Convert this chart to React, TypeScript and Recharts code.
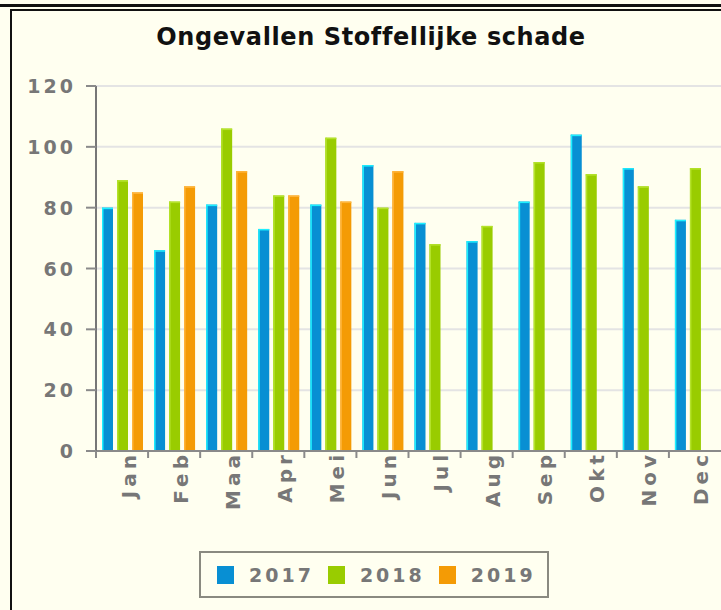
import React from 'react';
import { BarChart, Bar, XAxis, YAxis, CartesianGrid, Legend } from 'recharts';

const months = ['Jan', 'Feb', 'Maa', 'Apr', 'Mei', 'Jun', 'Jul', 'Aug', 'Sep', 'Okt', 'Nov', 'Dec'];
const s2017 = [80, 66, 81, 73, 81, 94, 75, 69, 82, 104, 93, 76];
const s2018 = [89, 82, 106, 84, 103, 80, 68, 74, 95, 91, 87, 93];
const s2019: (number | null)[] = [85, 87, 92, 84, 82, 92, null, null, null, null, null, null];
const yTicks = [0, 20, 40, 60, 80, 100, 120];
const seriesKeys = ['y2017', 'y2018', 'y2019'];
const seriesNames = ['2017', '2018', '2019'];
const seriesColors = ['#088fd3', '#99cc00', '#f49b05'];
const highlightColors = ['#1ef0ff', '#b4e22a', '#ffb43a'];
const title = 'Ongevallen Stoffellijke schade';

const data = months.map((m, i) => ({ month: m, y2017: s2017[i], y2018: s2018[i], y2019: s2019[i] }));

const BG = '#fffff0';
const TICK_FONT = '"DejaVu Sans", sans-serif';
const TICK_COLOR = '#777777';
const AXIS_COLOR = '#8a8a8a';

const makeShape = (fill: string, hi: string) => (props: any) => {
  const { x, y, width, height } = props;
  if (height == null || height <= 0 || width == null) return <g />;
  return (
    <g>
      <rect x={x} y={y} width={width} height={height} fill={fill} />
      <rect x={x} y={y} width={1.5} height={height} fill={hi} />
      <rect x={x} y={y} width={width} height={1.5} fill={hi} />
    </g>
  );
};

const XTick = (props: any) => {
  const { x, y, payload, width } = props;
  const band = (width as number) / months.length;
  const half = band / 2;
  return (
    <g>
      <line x1={x - half} y1={y} x2={x - half} y2={y + 7} stroke={AXIS_COLOR} strokeWidth={2} />
      <text
        transform={`translate(${x + 13.5},${y}) rotate(-90)`}
        textAnchor="end"
        fontFamily={TICK_FONT}
        fontWeight="bold"
        fontSize={20}
        letterSpacing={4}
        fill={TICK_COLOR}
      >
        {payload.value}
      </text>
    </g>
  );
};

const YTick = (props: any) => {
  const { x, y, payload } = props;
  return (
    <text
      x={x}
      y={y}
      dy={7}
      textAnchor="end"
      fontFamily={TICK_FONT}
      fontWeight="bold"
      fontSize={19}
      letterSpacing={3}
      fill={TICK_COLOR}
    >
      {payload.value}
    </text>
  );
};

const LegendContent = () => (
  <div
    style={{
      boxSizing: 'border-box',
      width: 350,
      height: 47,
      border: '2px solid #8a8a80',
      display: 'flex',
      alignItems: 'center',
      paddingLeft: 16,
      fontFamily: TICK_FONT,
      fontWeight: 'bold',
      fontSize: 19,
      letterSpacing: 3,
      color: TICK_COLOR,
    }}
  >
    {seriesNames.map((n, i) => (
      <div key={n} style={{ display: 'flex', alignItems: 'center', marginRight: 14 }}>
        <div style={{ width: 17, height: 18, background: seriesColors[i], marginRight: 15 }} />
        <span>{n}</span>
      </div>
    ))}
  </div>
);

export default function App() {
  return (
    <div style={{ position: 'fixed', left: 0, top: 0, width: 721, height: 610, background: BG, overflow: 'hidden' }}>
      <div style={{ position: 'absolute', left: 0, top: 4, width: 721, height: 3, background: '#111' }} />
      <div
        style={{
          position: 'absolute',
          left: 10,
          top: 9,
          width: 800,
          height: 700,
          borderLeft: '2px solid #111',
          borderTop: '2px solid #111',
        }}
      />
      <div
        style={{
          position: 'absolute',
          left: 0,
          width: 742,
          top: 23,
          textAlign: 'center',
          fontFamily: TICK_FONT,
          fontWeight: 'bold',
          fontSize: 24,
          letterSpacing: 0.6,
          color: '#111',
        }}
      >
        {title}
      </div>
      <div style={{ position: 'absolute', left: 0, top: 0 }}>
        <BarChart
          width={721}
          height={610}
          data={data}
          margin={{ top: 86, right: 0, left: 0, bottom: 0 }}
          barCategoryGap={6}
          barGap={4}
        >
          <CartesianGrid vertical={false} stroke="#e4e4e4" strokeWidth={2} />
          <XAxis
            dataKey="month"
            height={159}
            axisLine={{ stroke: AXIS_COLOR, strokeWidth: 2 }}
            tickLine={false}
            tickSize={0}
            tickMargin={0}
            interval={0}
            tick={<XTick />}
          />
          <YAxis
            width={96}
            domain={[0, 120]}
            ticks={yTicks}
            interval={0}
            axisLine={{ stroke: '#777', strokeWidth: 2 }}
            tickLine={{ stroke: AXIS_COLOR, strokeWidth: 2 }}
            tickSize={10}
            tickMargin={10}
            tick={<YTick />}
          />
          <Legend
            layout="horizontal"
            verticalAlign="middle"
            align="center"
            content={<LegendContent />}
            wrapperStyle={{ position: 'absolute', left: 199, top: 551, width: 350, height: 47 }}
          />
          {seriesKeys.map((k, i) => (
            <Bar
              key={k}
              dataKey={k}
              name={seriesNames[i]}
              fill={seriesColors[i]}
              isAnimationActive={false}
              shape={makeShape(seriesColors[i], highlightColors[i])}
            />
          ))}
        </BarChart>
      </div>
    </div>
  );
}
